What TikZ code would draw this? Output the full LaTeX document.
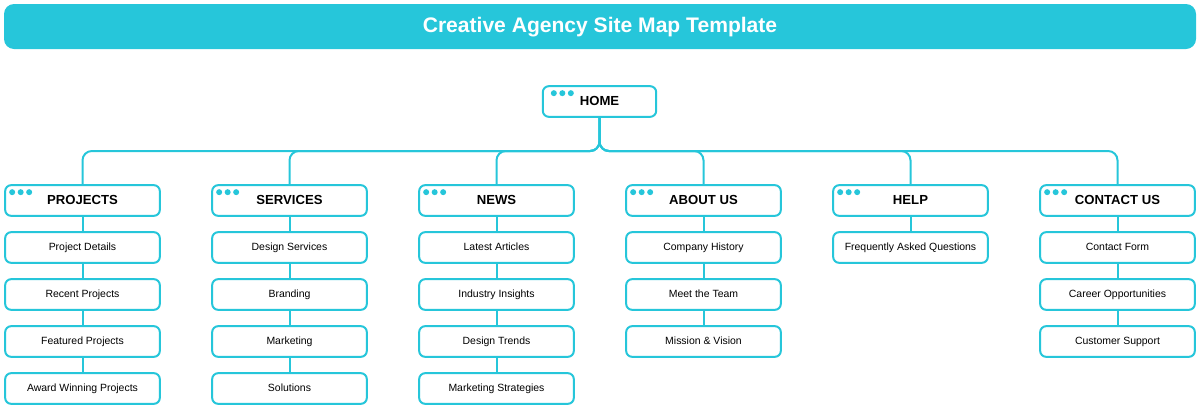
\documentclass[tikz,border=0pt]{standalone}
\usepackage{fontspec}
\setmainfont{Liberation Sans}
\definecolor{agency}{HTML}{26C6DA}
\tikzset{
 box/.style={draw=agency,line width=1.5pt,fill=white,rounded corners=4.5pt,minimum width=116pt,minimum height=23pt,inner sep=0pt,outer sep=0pt},
 headbox/.style={box,font=\fontsize{9.85}{12}\selectfont\bfseries,text=black,text depth=0pt},
 itembox/.style={box,font=\fontsize{7.85}{10}\selectfont,text=black},
 link/.style={draw=agency,line width=1.5pt,rounded corners=7pt},
 chain/.style={draw=agency,line width=1.5pt},
}
\begin{document}
\begin{tikzpicture}[x=.75pt,y=.75pt]
\useasboundingbox (0,0) rectangle (1200,-408);
\node[fill=agency,rounded corners=7.5pt,minimum width=894pt,minimum height=33.75pt,inner sep=0pt,text=white,text height=13pt,text depth=3.4pt,font=\fontsize{15.8}{20}\selectfont\bfseries] (title) at (600,-26.5) {Creative Agency Site Map Template};
\node[headbox,minimum width=85pt] (home) at (599.5,-101.5) {\raisebox{1pt}{HOME}};
\coordinate (rail) at (599.5,-151);
\foreach \c/\xc/\head/\items in {
 1/82.5/PROJECTS/{Project Details,Recent Projects,Featured Projects,Award Winning Projects},
 2/289.5/SERVICES/{Design Services,Branding,Marketing,Solutions},
 3/496.5/NEWS/{Latest Articles,Industry Insights,Design Trends,Marketing Strategies},
 4/703.5/ABOUT US/{Company History,Meet the Team,Mission \& Vision},
 5/910.5/HELP/{Frequently Asked Questions},
 6/1117.5/CONTACT US/{Contact Form,Career Opportunities,Customer Support}} {
 \node[headbox] (c\c-0) at (\xc,-200.5) {\raisebox{1pt}{\head}};
 \draw[link] (home.south) -- (home.south |- rail) -| (c\c-0.north);
 \foreach \d in {7,15.5,24} \fill[agency] ([shift={(\d,-7)}]c\c-0.north west) circle (3);
 \foreach \t [count=\i,remember=\i as \j (initially 0)] in \items {
  \node[itembox] (c\c-\i) at (\xc,-200.5-47*\i) {\raisebox{1pt}{\t}};
  \draw[chain] (c\c-\j.south) -- (c\c-\i.north);
 }
}
\foreach \d in {11,19.5,28} \fill[agency] ([shift={(\d,-7)}]home.north west) circle (3);
\end{tikzpicture}
\end{document}
